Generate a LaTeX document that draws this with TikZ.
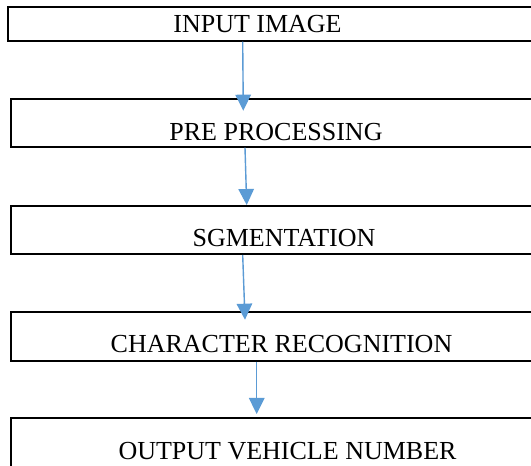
\documentclass[tikz,border=0pt]{standalone}
\usepackage{fontspec}
\setmainfont{Liberation Serif}
\usetikzlibrary{arrows.meta}
\definecolor{arrblue}{HTML}{5B9BD5}
\tikzset{
  stagebox/.style={draw=black, line width=2pt, rectangle, inner sep=0pt, anchor=center},
  stagetext/.style={anchor=base, inner sep=0pt, font=\fontsize{26}{30}\selectfont},
  arr/.style={draw=arrblue, line width=1.4pt, -{Triangle[length=16pt,width=15.5pt]}, arrblue}
}
\begin{document}
\begin{tikzpicture}[x=1pt,y=1pt]
\useasboundingbox (0,0) rectangle (531,466);
\fill[white] (0,0) rectangle (531,466);
\clip (0,0) rectangle (531,466);
% boxes
\node[stagebox, minimum width=537pt, minimum height=33.4pt] (b1) at (276.5,442) {};
\node[stagebox, minimum width=534pt, minimum height=47.7pt] (b2) at (278,343.15) {};
\node[stagebox, minimum width=534pt, minimum height=48pt] (b3) at (278,236) {};
\node[stagebox, minimum width=534pt, minimum height=48.7pt] (b4) at (278,129.65) {};
\node[stagebox, minimum width=534pt, minimum height=52pt] (b5) at (278,22) {};
% texts
\node[stagetext] (t1) at (257.5,433) {INPUT IMAGE};
\node[stagetext] (t2) at (276,325.5) {PRE PROCESSING};
\node[stagetext] (t3) at (284,219) {SGMENTATION};
\node[stagetext] (t4) at (281.5,113) {CHARACTER RECOGNITION};
\node[stagetext] (t5) at (287.5,6) {OUTPUT VEHICLE NUMBER};
% arrows
\draw[arr] ([xshift=-33.8pt]b1.south) -- ([xshift=-34.7pt,yshift=-12.7pt]b2.north);
\draw[arr] ([xshift=-33pt]b2.south) -- ([xshift=-31.3pt]b3.north);
\draw[arr] ([xshift=-35.3pt]b3.south) -- ([xshift=-33pt,yshift=-8.7pt]b4.north);
\draw[arr] ([xshift=-21.3pt]b4.south) -- ([xshift=-21.3pt,yshift=3pt]b5.north);
\end{tikzpicture}
\end{document}
